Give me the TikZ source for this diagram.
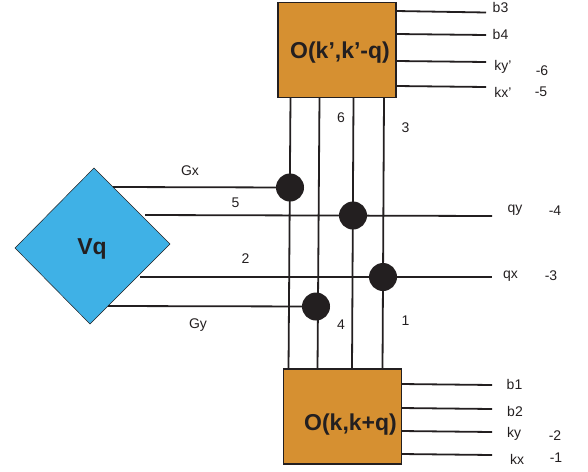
\documentclass[tikz,border=0pt]{standalone}
\usepackage{fontspec}
\setmainfont{Liberation Sans}
\definecolor{ink}{HTML}{231F20}
\definecolor{boxorange}{HTML}{D69031}
\definecolor{vblue}{HTML}{3FB1E6}
\tikzset{
  x=1pt,y=-1pt,
  wire/.style={draw=ink,line width=1.8pt},
  opbox/.style={draw=ink,line width=1.8pt,fill=boxorange,rectangle,inner sep=0pt},
  vertexdot/.style={circle,fill=ink,inner sep=0pt,minimum size=28pt},
  lab/.style={text=ink,font=\fontsize{14}{16}\selectfont,inner sep=0pt},
  boldlab/.style={text=ink,font=\bfseries\fontsize{23}{26}\selectfont,inner sep=0pt},
}
\begin{document}
\begin{tikzpicture}
\useasboundingbox (0,0) rectangle (588,471);
% diamond
\fill[vblue,draw=ink,line width=0.5pt] (94,168) coordinate (dt) -- (170,244) coordinate (dr) -- (90,324) coordinate (db) -- (15,248) coordinate (dl) -- cycle;
\node[boldlab] (vq) at (92,249) {Vq};
% coordinates
\foreach \n/\x/\y in {gxs/113/187, fives/145/215, fivee/492/216, twos/140/277, twoe/492/277, gys/108/306,
  vat/290.5/97, vab/288.5/370, vbt/319.5/97, vbb/317.5/370, vct/353.5/97, vcb/352/370, vdt/384/97, vdb/382.5/370,
  t1a/396/11, t1b/486/12.5, t2a/396/34, t2b/486/35, t3a/396/61, t3b/486/62, t4a/396/86, t4b/486/87,
  b1a/401/384, b1b/492/385, b2a/401/408, b2b/492/409, b3a/401/431, b3b/492/432, b4a/401/454, b4b/492/455}
  {\coordinate (\n) at (\x,\y);}
% dots
\node[vertexdot] (d1) at (290,187.5) {};
\node[vertexdot] (d2) at (353,215.5) {};
\node[vertexdot] (d3) at (383,277) {};
\node[vertexdot] (d4) at (316,306.5) {};
% wires
\draw[wire] (vat) -- (vab);
\draw[wire] (vbt) -- (vbb);
\draw[wire] (vct) -- (vcb);
\draw[wire] (vdt) -- (vdb);
\draw[wire] (gxs) -- (d1);
\draw[wire] (gys) -- (d4);
\draw[wire] (fives) -- (fivee);
\draw[wire] (twos) -- (twoe);
\foreach \n in {t1,t2,t3,t4,b1,b2,b3,b4}{\draw[wire] (\n a) -- (\n b);}
% boxes
\node[opbox,minimum width=118pt,minimum height=95pt] (top) at (337,50) {};
\node[opbox,minimum width=118pt,minimum height=95pt] (bot) at (342.5,416.5) {};
\node[boldlab] (tl) at (340,53) {O(k’,k’-q)};
\node[boldlab] (bl) at (350.5,425) {O(k,k+q)};
% labels
\foreach \n/\x/\y/\t in {
  a1/500.5/7/b3, a2/500.5/34/b4, a3/503/67/ky’, a4/503/92/kx’, a5/542/70.5/-6, a6/541/91.5/-5,
  c1/514.5/384.5/b1, c2/515/411/b2, c3/514/434/ky, c4/517/459/kx, c5/555/435.5/-2, c6/556/458/-1,
  e1/515/210.5/qy, e2/510.5/276/qx, e3/555/210.5/-4, e4/551/275.5/-3,
  f1/341/117.5/6, f2/405.5/128/3, f3/341/325/4, f4/405.5/320.5/1,
  f5/235.5/203/5, f6/245.5/258.5/2, g1/190/170.5/Gx, g2/198/325.5/Gy}
  {\node[lab] (\n) at (\x,\y) {\t};}
\end{tikzpicture}
\end{document}
